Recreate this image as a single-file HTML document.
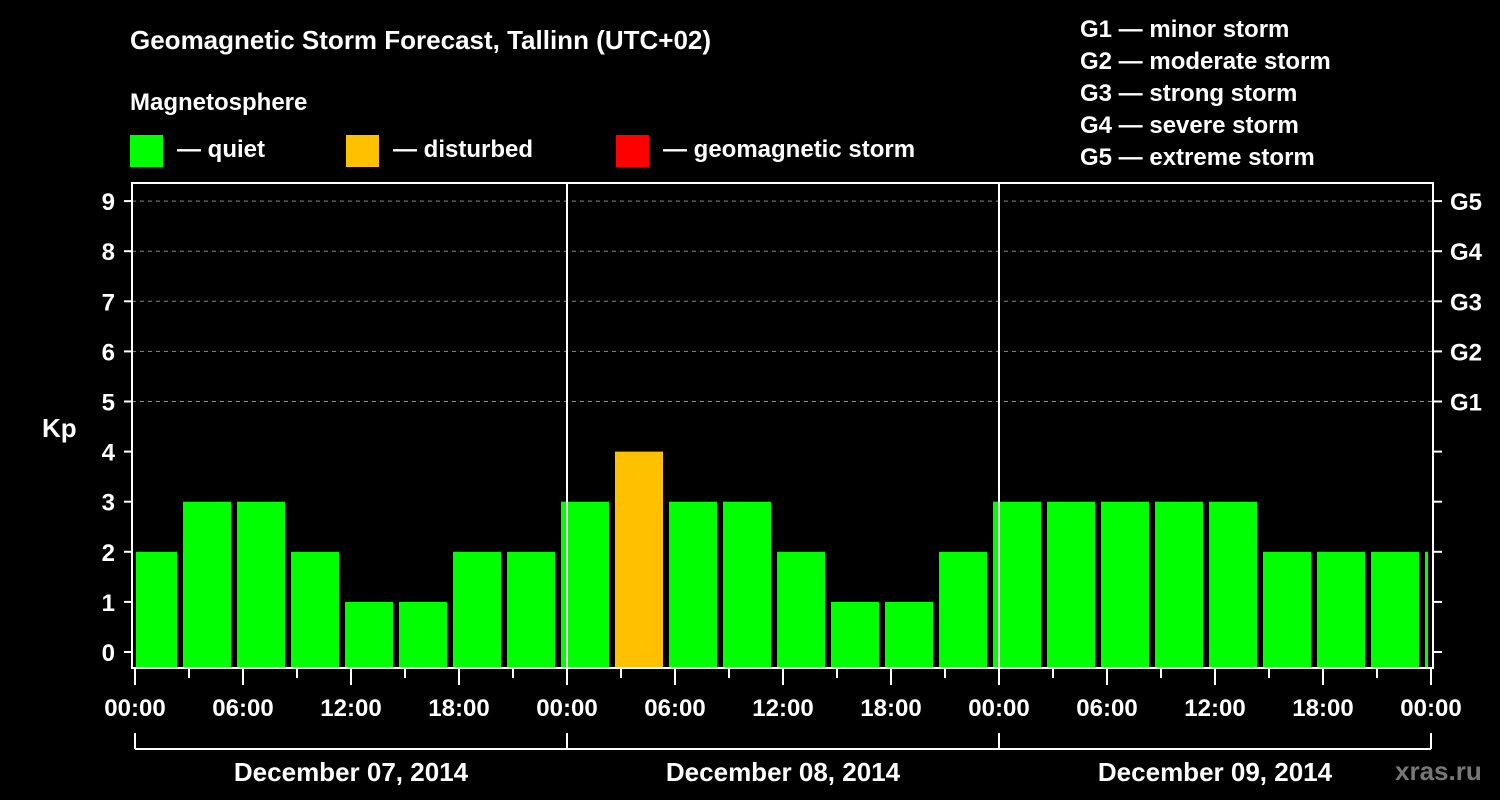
<!DOCTYPE html>
<html><head><meta charset="utf-8"><style>
html,body{margin:0;padding:0;background:#000;}
svg{display:block;font-family:"Liberation Sans",Arial,sans-serif;font-weight:bold;}
</style></head><body>
<svg id="chart" width="1500" height="800" viewBox="0 0 1500 800">
<rect width="1500" height="800" fill="#000"/>
<text x="130" y="49" fill="#fff" font-size="26">Geomagnetic Storm Forecast, Tallinn (UTC+02)</text>
<text x="130" y="110" fill="#fff" font-size="24">Magnetosphere</text>
<rect x="130" y="135" width="33" height="32" fill="#00ff00"/>
<text x="177" y="157" fill="#fff" font-size="24">— quiet</text>
<rect x="346" y="135" width="33" height="32" fill="#ffc000"/>
<text x="393" y="157" fill="#fff" font-size="24">— disturbed</text>
<rect x="616" y="135" width="33" height="32" fill="#ff0000"/>
<text x="663" y="157" fill="#fff" font-size="24">— geomagnetic storm</text>
<g fill="#fff" font-size="24">
<text x="1080" y="37">G1 — minor storm</text>
<text x="1080" y="69">G2 — moderate storm</text>
<text x="1080" y="101">G3 — strong storm</text>
<text x="1080" y="133">G4 — severe storm</text>
<text x="1080" y="165">G5 — extreme storm</text>
</g>
<text x="42" y="437" fill="#fff" font-size="26">Kp</text>
<g id="grid"></g>
<g id="bars"></g>
<g id="axes"></g>
<text x="1395" y="780" fill="#777" font-size="26">xras.ru</text>
</svg>
<script>
const kpValues = [2,3,3,2,1,1,2,2,3,4,3,3,2,1,1,2,3,3,3,3,3,2,2,2,2];
const yTicks = [0,1,2,3,4,5,6,7,8,9];
const gLabels = ["G1","G2","G3","G4","G5"];
const dayLabels = ["December 07, 2014","December 08, 2014","December 09, 2014"];
const hourLabels = ["00:00","06:00","12:00","18:00"];

const NS="http://www.w3.org/2000/svg";
const PL=132, PR=1433, PT=183, PB=668;
const X0=135, PXH=18; // px per hour
const yS = v => 652 - 50.1*v;
const xS = h => X0 + PXH*h;
function mk(tag, attrs, parent){const e=document.createElementNS(NS,tag);for(const k in attrs)e.setAttribute(k,attrs[k]);parent.appendChild(e);return e;}
const grid=document.getElementById('grid'), bars=document.getElementById('bars'), axes=document.getElementById('axes');

// dashed gridlines for G levels
gLabels.forEach((g,i)=>{
  const y=yS(5+i);
  const l=mk('line',{x1:PL,x2:PR,y1:y,y2:y,stroke:'#888','stroke-dasharray':'4,4','stroke-width':1},grid);
  
  
  const t=mk('text',{x:1450,y:y+9,fill:'#fff','font-size':24},axes);
  t.textContent=g;
  
  
});

// bars
kpValues.forEach((v,k)=>{
  let x1=xS(3*k-0.5)+3, x2=x1+48;
  x1=Math.max(x1,PL+4); x2=Math.min(x2,PR-5);
  const col = v>=5?'#ff0000':(v>=4?'#ffc000':'#00ff00');
  const r=mk('rect',{x:x1,y:yS(v),width:x2-x1,height:PB-yS(v),fill:col},bars);
  
  
});

// frame
const fr=mk('rect',{x:PL,y:PT,width:PR-PL,height:PB-PT,fill:'none',stroke:'#fff','stroke-width':2},axes);


// day separators
[1,2].forEach(d=>{
  const l=mk('line',{x1:xS(24*d),x2:xS(24*d),y1:PT,y2:PB,stroke:'#fff','stroke-width':2},axes);
  
  
});
// y ticks
yTicks.forEach(v=>{
  const y=yS(v);
  mk('line',{x1:124,x2:PL,y1:y,y2:y,stroke:'#fff','stroke-width':2},axes);
  mk('line',{x1:PR,x2:1442,y1:y,y2:y,stroke:'#fff','stroke-width':2},axes);
  const t=mk('text',{x:115,y:y+9,fill:'#fff','font-size':24,'text-anchor':'end'},axes);
  t.textContent=v;
  
  
});
// x ticks
for(let h=0;h<=72;h+=3){
  const x=xS(h), long=h%6===0;
  mk('line',{x1:x,x2:x,y1:PB,y2:long?685:678,stroke:'#fff','stroke-width':2},axes);
  if(long){
    const t=mk('text',{x:x,y:716,fill:'#fff','font-size':24,'text-anchor':'middle'},axes);
    t.textContent=hourLabels[(h/6)%4];
    
    
  }
}
// day bracket
mk('line',{x1:xS(0),x2:xS(72),y1:749,y2:749,stroke:'#fff','stroke-width':2},axes);
for(let d=0;d<=3;d++) mk('line',{x1:xS(24*d),x2:xS(24*d),y1:733,y2:749,stroke:'#fff','stroke-width':2},axes);
dayLabels.forEach((s,d)=>{
  const t=mk('text',{x:xS(24*d+12),y:781,fill:'#fff','font-size':26,'text-anchor':'middle'},axes);
  t.textContent=s;
  
  
});
</script>
</body></html>
